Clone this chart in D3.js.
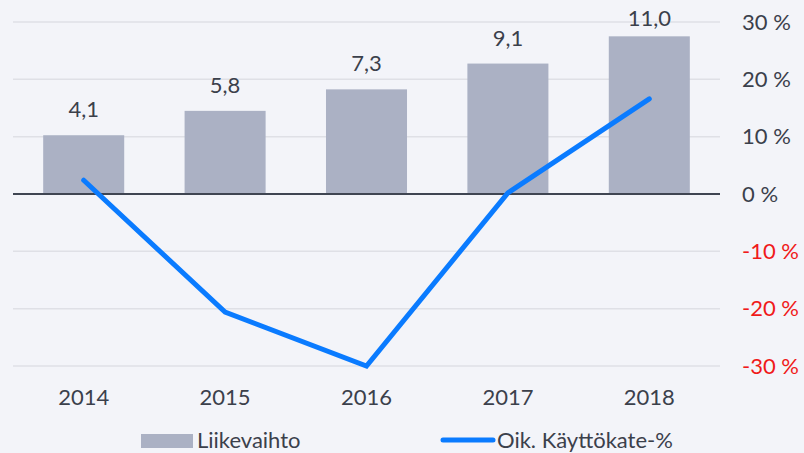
<!DOCTYPE html>
<html>
<head>
<meta charset="utf-8">
<script src="https://cdn.jsdelivr.net/npm/d3@7"></script>
<style>
  html, body { margin: 0; padding: 0; background: #f3f4f9; }
  svg { display: block; font-family: Lato, "Open Sans", sans-serif; }
</style>
</head>
<body>
<svg id="chart" width="804" height="453"></svg>
<script>
var years = ['2014', '2015', '2016', '2017', '2018'];
var revenue = [4.1, 5.8, 7.3, 9.1, 11.0];
var ebitdaPct = [2.4, -20.6, -30.0, 0.2, 16.6];
var pctTicks = [30, 20, 10, 0, -10, -20, -30];
var legendNames = ['Liikevaihto', 'Oik. Käyttökate-%'];

var W = 804, H = 453;
var plot = { left: 13, right: 720, top: 22, bottom: 366 };

var svg = d3.select('#chart');

var x = d3.scaleBand()
  .domain(years)
  .range([plot.left, plot.right])
  .paddingInner(0.427)
  .paddingOuter(0.2135);

var yL = d3.scaleLinear().domain([-12, 12]).range([plot.bottom, plot.top]);
var yR = d3.scaleLinear().domain([-30, 30]).range([plot.bottom, plot.top]);

var fmt = function (v) { return d3.format('.1f')(v).replace('.', ','); };

// gridlines
svg.append('g')
  .selectAll('line')
  .data(pctTicks.filter(function (t) { return t !== 0; }))
  .enter().append('line')
  .attr('x1', plot.left).attr('x2', plot.right)
  .attr('y1', function (d) { return yR(d); })
  .attr('y2', function (d) { return yR(d); })
  .attr('stroke', '#dfe0e6')
  .attr('stroke-width', 1.5);

// bars
svg.append('g')
  .selectAll('rect')
  .data(revenue)
  .enter().append('rect')
  .attr('x', function (d, i) { return x(years[i]); })
  .attr('width', x.bandwidth())
  .attr('y', function (d) { return yL(d); })
  .attr('height', function (d) { return yL(0) - yL(d); })
  .attr('fill', '#abb1c4');

// bar value labels
svg.append('g')
  .selectAll('text')
  .data(revenue)
  .enter().append('text')
  .attr('x', function (d, i) { return x(years[i]) + x.bandwidth() / 2; })
  .attr('y', function (d) { return Math.max(yL(d) - 18, 26); })
  .attr('text-anchor', 'middle')
  .attr('font-size', 22)
  .attr('fill', '#3b404b')
  .text(fmt);

// zero line
svg.append('line')
  .attr('x1', plot.left).attr('x2', plot.right)
  .attr('y1', yR(0)).attr('y2', yR(0))
  .attr('stroke', '#3f4552')
  .attr('stroke-width', 2);

// right axis
var axisR = svg.append('g')
  .attr('transform', 'translate(' + (plot.right + 22) + ',0)')
  .call(d3.axisRight(yR).tickValues(pctTicks).tickSize(0).tickPadding(0)
    .tickFormat(function (d) { return d + ' %'; }));
axisR.select('.domain').remove();
axisR.selectAll('text')
  .attr('font-family', 'Lato, "Open Sans", sans-serif')
  .attr('font-size', 22)
  .attr('fill', function (d) { return d < 0 ? '#f01a1a' : '#3b404b'; });

// x axis labels
var axisX = svg.append('g')
  .attr('transform', 'translate(0,' + (plot.bottom + 23) + ')')
  .call(d3.axisBottom(x).tickSize(0).tickPadding(0));
axisX.select('.domain').remove();
axisX.selectAll('text')
  .attr('font-family', 'Lato, "Open Sans", sans-serif')
  .attr('font-size', 22)
  .attr('fill', '#3b404b');

// line
var line = d3.line()
  .x(function (d, i) { return x(years[i]) + x.bandwidth() / 2; })
  .y(function (d) { return yR(d); });

svg.append('path')
  .datum(ebitdaPct)
  .attr('d', line)
  .attr('fill', 'none')
  .attr('stroke', '#0a7bff')
  .attr('stroke-width', 5)
  .attr('stroke-linecap', 'round')
  .attr('stroke-linejoin', 'miter');

// legend
var legend = svg.append('g').attr('transform', 'translate(0,440)');
legend.append('rect')
  .attr('x', 141).attr('y', -6).attr('width', 52).attr('height', 14)
  .attr('fill', '#abb1c4');
legend.append('text')
  .attr('x', 197).attr('y', 7.5)
  .attr('font-size', 22).attr('fill', '#3b404b')
  .text(legendNames[0]);
legend.append('line')
  .attr('x1', 443).attr('x2', 493).attr('y1', 0).attr('y2', 0)
  .attr('stroke', '#0a7bff').attr('stroke-width', 5)
  .attr('stroke-linecap', 'round');
legend.append('text')
  .attr('x', 497).attr('y', 7.5)
  .attr('font-size', 22).attr('fill', '#3b404b')
  .text(legendNames[1]);
</script>
</body>
</html>
